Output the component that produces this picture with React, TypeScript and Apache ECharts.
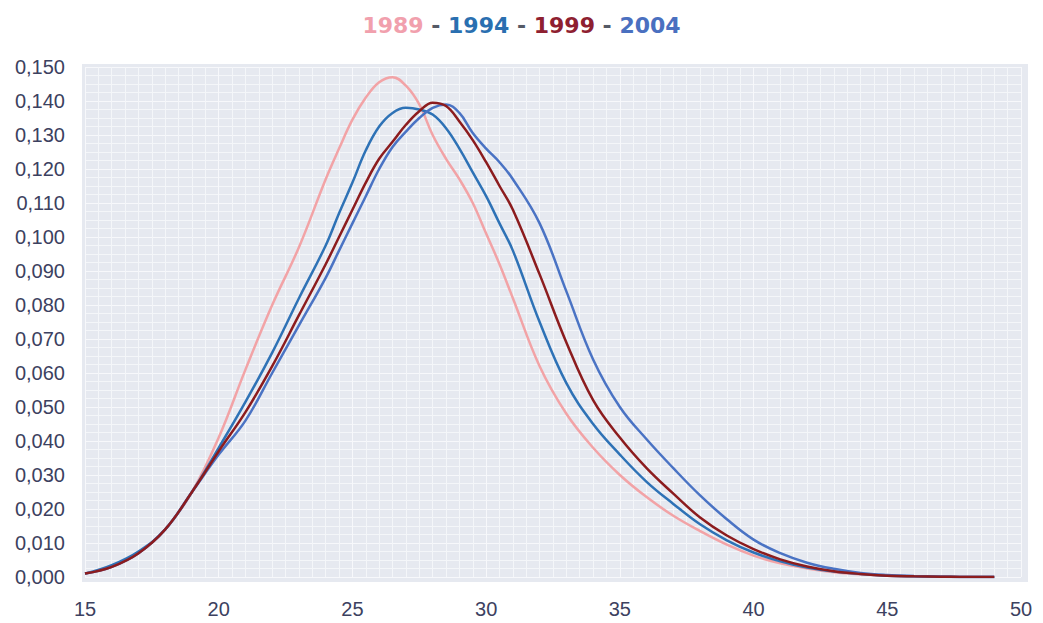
import React, { useEffect, useRef } from "react";
import * as echarts from "echarts";

const ages = [15, 16, 17, 18, 19, 20, 21, 22, 23, 24, 24.5, 25, 25.5, 26, 26.5, 27, 27.5, 28, 28.5, 29, 29.5, 30, 30.5, 31, 32, 33, 34, 35, 36, 37, 38, 39, 40, 41, 42, 43, 44, 45, 46, 47, 48, 49];

const v1989 = [0.001, 0.003, 0.007, 0.014, 0.025, 0.041, 0.061, 0.08, 0.097, 0.117, 0.126, 0.1345, 0.141, 0.1455, 0.147, 0.1445, 0.139, 0.13, 0.123, 0.117, 0.11, 0.101, 0.092, 0.082, 0.062, 0.048, 0.038, 0.03, 0.0235, 0.018, 0.0135, 0.0095, 0.0063, 0.004, 0.0025, 0.0014, 0.0008, 0.0004, 0.0002, 0.0001, 0.0001, 0.0];
const v1994 = [0.001, 0.0035, 0.0075, 0.014, 0.025, 0.038, 0.0515, 0.066, 0.082, 0.0975, 0.107, 0.116, 0.1255, 0.1325, 0.1365, 0.138, 0.1375, 0.136, 0.132, 0.126, 0.119, 0.112, 0.104, 0.096, 0.075, 0.057, 0.045, 0.036, 0.028, 0.0215, 0.0155, 0.0108, 0.0072, 0.0046, 0.0028, 0.0016, 0.0009, 0.0004, 0.0002, 0.0001, 0, 0];
const v1999 = [0.001, 0.003, 0.007, 0.014, 0.025, 0.037, 0.0485, 0.062, 0.077, 0.092, 0.1, 0.108, 0.116, 0.123, 0.128, 0.133, 0.137, 0.1395, 0.1385, 0.134, 0.1285, 0.122, 0.115, 0.108, 0.089, 0.069, 0.052, 0.041, 0.032, 0.0245, 0.0175, 0.0122, 0.0082, 0.0052, 0.0031, 0.0017, 0.0009, 0.0004, 0.0002, 0.0001, 0, 0];
const v2004 = [0.001, 0.003, 0.007, 0.014, 0.025, 0.036, 0.046, 0.06, 0.074, 0.088, 0.096, 0.104, 0.112, 0.12, 0.1265, 0.131, 0.135, 0.138, 0.139, 0.1365, 0.1306, 0.126, 0.122, 0.117, 0.104, 0.084, 0.064, 0.05, 0.0405, 0.032, 0.024, 0.017, 0.011, 0.007, 0.0042, 0.0024, 0.0012, 0.0006, 0.0003, 0.0001, 0, 0];

const years = ["1989", "1994", "1999", "2004"];
const seriesValues = [v1989, v1994, v1999, v2004];
const lineColors = ["#f2a3a6", "#2e72b6", "#8c1c1e", "#4a73c4"];
const titleColors = ["#f1a0ad", "#2a6fb0", "#8e2030", "#4a70c0"];
const drawOrder = [0, 1, 3, 2];

export default function App() {
  const ref = useRef<HTMLDivElement>(null);

  useEffect(() => {
    if (!ref.current) return;
    const chart = echarts.init(ref.current, undefined, { renderer: "svg" });
    const keys = ["a", "b", "c", "e"];
    const titleText = years.map((y, i) => `{${keys[i]}|${y}}`).join("{d| - }");
    const rich: Record<string, any> = { d: { color: "#555a66", fontSize: 22, fontWeight: "bold", fontFamily: "DejaVu Sans" } };
    keys.forEach((k, i) => {
      rich[k] = { color: titleColors[i], fontSize: 22, fontWeight: "bold", fontFamily: "DejaVu Sans" };
    });

    chart.setOption({
      animation: false,
      backgroundColor: "#ffffff",
      title: {
        text: titleText,
        left: "center",
        top: 9,
        textStyle: { rich },
      },
      graphic: [
        {
          type: "rect",
          z: -10,
          silent: true,
          shape: { x: 82, y: 64, width: 946, height: 518 },
          style: { fill: "#e6e9f0" },
        },
      ],
      grid: { left: 85, right: 22, top: 67, bottom: 46, containLabel: false },
      xAxis: {
        type: "value",
        min: 15,
        max: 50,
        interval: 5,
        axisLine: { show: false },
        axisTick: { show: false },
        axisLabel: {
          color: "#3c4160",
          fontSize: 20,
          fontFamily: "Liberation Sans",
          margin: 22,
        },
        splitLine: { show: true, lineStyle: { color: "#f7f8fb", width: 1 } },
        minorTick: { show: false, splitNumber: 10 },
        minorSplitLine: { show: true, lineStyle: { color: "#f4f6f9", width: 1 } },
      },
      yAxis: {
        type: "value",
        min: 0,
        max: 0.15,
        interval: 0.01,
        axisLine: { show: false },
        axisTick: { show: false },
        axisLabel: {
          color: "#3c4160",
          fontSize: 20,
          fontFamily: "Liberation Sans",
          margin: 20,
          formatter: (v: number) => v.toFixed(3).replace(".", ","),
        },
        splitLine: { show: true, lineStyle: { color: "#f7f8fb", width: 1 } },
        minorTick: { show: false, splitNumber: 4 },
        minorSplitLine: { show: true, lineStyle: { color: "#f4f6f9", width: 1 } },
      },
      series: drawOrder.map((i) => ({
        name: years[i],
        type: "line",
        smooth: 0.4,
        showSymbol: false,
        symbol: "none",
        lineStyle: { color: lineColors[i], width: 2.5 },
        itemStyle: { color: lineColors[i] },
        data: ages.map((a, j) => [a, seriesValues[i][j]]),
      })),
    });

    return () => chart.dispose();
  }, []);

  return (
    <div
      ref={ref}
      style={{ position: "fixed", left: 0, top: 0, width: 1043, height: 623 }}
    />
  );
}
